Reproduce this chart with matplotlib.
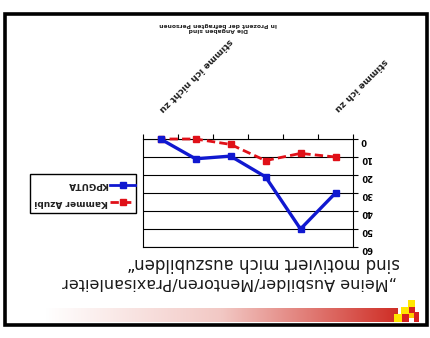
import matplotlib
matplotlib.use("Agg")
import matplotlib.pyplot as plt
import numpy as np
from matplotlib.patches import Rectangle
from matplotlib.colors import LinearSegmentedColormap

# answers per category, in the order of the scale
categories = ["stimme ich zu", "", "", "", "", "stimme ich nicht zu"]
kpguta = [30, 50, 21, 9.5, 11, 0]
kammer = [10, 8, 12, 3, 0, 0]
yticks = [0, 10, 20, 30, 40, 50, 60]

title_1 = "\u201eMeine Ausbilder/Mentoren/Praxisanleiter"
title_2 = "sind motiviert mich auszubilden\u201c"
note = "Die Angaben sind\nin Prozent der befragten Personen"

fig = plt.figure(figsize=(4.3, 3.38), dpi=100)
fig.patch.set_facecolor("white")

# slide background in pixel coordinates (the whole slide is turned upside down)
bg = fig.add_axes([0, 0, 1, 1], zorder=0)
bg.set_xlim(0, 430)
bg.set_ylim(338, 0)
bg.axis("off")

bg.add_patch(Rectangle((5, 13.5), 422, 311.5, fill=False, ec="black", lw=2.6))

red_fade = LinearSegmentedColormap.from_list("fade", ["white", "#f2c8c4", "#cf2e26"])
grad = np.linspace(0, 1, 256).reshape(1, -1)
bg.imshow(grad, cmap=red_fade, extent=(45, 398, 322, 308), aspect="auto", zorder=1)

# small logo
for (x, y, w, h, c) in [(408, 300, 7, 7, "#ffe600"), (401, 307, 8, 7, "#ffe600"),
                        (409, 307, 6, 6, "#d62020"), (394, 314, 8, 8, "#ffe600"),
                        (402, 314, 7, 8, "#d62020"), (414, 312, 5, 10, "#d62020"),
                        (409, 313, 5, 5, "#ffcc00")]:
    bg.add_patch(Rectangle((x, y), w, h, color=c, lw=0, zorder=2))

bg.text(397, 283, title_1, rotation=180, rotation_mode="anchor", ha="left",
        va="center", fontsize=11.5, color="#1a1a1a")
bg.text(400, 262.5, title_2, rotation=180, rotation_mode="anchor", ha="left",
        va="center", fontsize=12, color="#1a1a1a")
bg.text(218, 27, note, rotation=180, rotation_mode="anchor", ha="center",
        va="center", fontsize=4.3, fontweight="bold", color="#222222",
        multialignment="center", linespacing=1.1)

# legend box
bg.add_patch(Rectangle((30, 174), 106, 39, fill=False, ec="black", lw=1.0, zorder=3))
bg.plot([110, 135], [185, 185], color="#1018d0", lw=2, zorder=3)
bg.plot([123], [185], marker="s", ms=4, color="#1018d0", zorder=3)
bg.plot([110, 135], [202, 202], color="#e01018", lw=2, dashes=(3, 1.5), zorder=3)
bg.plot([123], [202], marker="s", ms=4, color="#e01018", zorder=3)
bg.text(108, 185, "KPGUTA", rotation=180, rotation_mode="anchor", ha="left",
        va="center", fontsize=6.5, fontweight="bold", color="#222222", zorder=3)
bg.text(108, 202, "Kammer Azubi", rotation=180, rotation_mode="anchor", ha="left",
        va="center", fontsize=6.5, fontweight="bold", color="#222222", zorder=3)

# the chart itself
ax = fig.add_axes([143 / 430, 1 - 247 / 338, 210 / 430, 108 / 338], zorder=2)
x = np.arange(len(categories))
ax.plot(x, kammer, color="#e01018", lw=2, dashes=(3, 1.5), marker="s", ms=4,
        clip_on=False, zorder=3)
ax.plot(x, kpguta, color="#1018d0", lw=2.4, marker="s", ms=4, clip_on=False, zorder=4)

ax.set_xlim(len(categories) - 0.5, -0.5)
ax.set_ylim(60, 0)
ax.set_yticks(yticks)
ax.yaxis.tick_right()
ax.tick_params(axis="y", direction="out", length=3.5, width=0.8, pad=2)
for lab in ax.get_yticklabels():
    lab.set_rotation(180)
    lab.set_fontsize(6)
    lab.set_fontweight("bold")
ax.grid(axis="y", color="black", lw=0.8)

ax.xaxis.tick_top()
ax.set_xticks(np.arange(-0.5, len(categories), 1))
ax.set_xticklabels([])
ax.tick_params(axis="x", direction="out", length=3.5, width=0.8)
for i, c in enumerate(categories):
    ax.text(i, -16, c, rotation=225, rotation_mode="anchor", ha="right", va="center",
            fontsize=6.5, fontweight="bold", color="#222222", clip_on=False)

for s in ax.spines.values():
    s.set_color("black")
    s.set_linewidth(0.8)

fig.savefig("out.png", dpi=100)
